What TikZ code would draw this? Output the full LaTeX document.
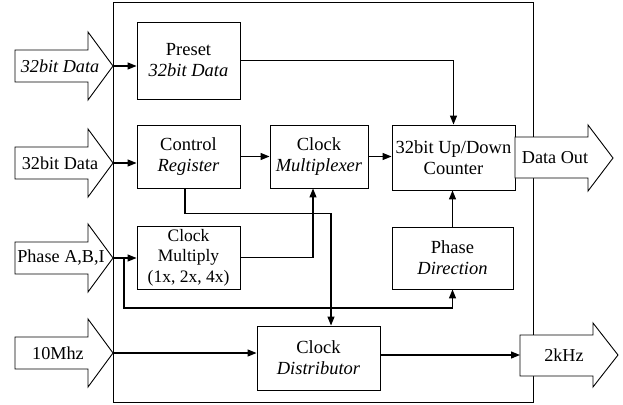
\documentclass[tikz,border=0pt]{standalone}
\usepackage{fontspec}
\setmainfont{Liberation Serif}
\usetikzlibrary{arrows.meta}
\begin{document}
\begin{tikzpicture}[x=1pt,y=-1pt,
  blk/.style={draw, line width=0.9pt, fill=white, align=center, inner sep=0pt,
    font=\fontsize{18.5}{21}\selectfont},
  conn/.style={line width=1.2pt, -{Triangle[length=9pt,width=7pt]}},
  io/.style={draw, line width=0.9pt, fill=white, line join=miter},
  lbl/.style={font=\fontsize{18.2}{21}\selectfont, inner sep=0pt}
]
\useasboundingbox (0,0) rectangle (623,404);
% outer frame
\draw[line width=1pt] (113,3) rectangle (533,402);

% input arrows
\draw[io] (15,50) -- (88,50) -- (88,32) -- (113,66) -- (88,100) -- (88,82) -- (15,82) -- cycle;
\coordinate (in1) at (113,66);
\node[lbl] (t1) at (60,66) {\textit{32bit Data}};

\draw[io] (15,147) -- (88,147) -- (88,129) -- (113,163) -- (88,197) -- (88,179) -- (15,179) -- cycle;
\coordinate (in2) at (113,163);
\node[lbl] (t2) at (60,163) {32bit Data};

\draw[io] (15,242) -- (88,242) -- (88,224) -- (113,258) -- (88,292) -- (88,274) -- (15,274) -- cycle;
\coordinate (in3) at (113,258);
\node[lbl] (t3) at (61,258) {Phase A,B,I};

\draw[io] (15,337) -- (88,337) -- (88,319) -- (113,353) -- (88,387) -- (88,369) -- (15,369) -- cycle;
\coordinate (in4) at (113,353);
\node[lbl] (t4) at (58,353) {10Mhz};

% blocks
\node[blk, minimum width=103pt, minimum height=77pt] (preset) at (188.5,60.5) {Preset\\\textit{32bit Data}};
\node[blk, minimum width=103pt, minimum height=63pt] (control) at (188.5,156.5) {Control\\\textit{Register}};
\node[blk, minimum width=98pt, minimum height=63pt] (mux) at (319,156.5) {Clock\\\textit{Multiplexer}};
\node[blk, minimum width=123pt, minimum height=65pt] (counter) at (453.5,157.5) {32bit Up/Down\\Counter};
\node[blk, minimum width=103pt, minimum height=63pt, font=\fontsize{17.5}{20.5}\selectfont] (clkmul) at (188.5,257.5) {Clock\\Multiply\\(1x, 2x, 4x)};
\node[blk, minimum width=121pt, minimum height=62pt] (phasedir) at (452.5,258) {Phase\\\textit{Direction}};
\node[blk, minimum width=123pt, minimum height=64pt] (clkdist) at (318.5,358) {Clock\\\textit{Distributor}};

% output arrows
\draw[io] (515,137) -- (588,137) -- (588,125) -- (613,158) -- (588,191) -- (588,178) -- (515,178) -- cycle;
\node[lbl] (t5) at (555,158) {Data Out};
\draw[io] (520,335) -- (593,335) -- (593,323) -- (618,355) -- (593,387) -- (593,376) -- (520,376) -- cycle;
\coordinate (out2) at (520,355);
\node[lbl] (t6) at (564,355) {2kHz};

% connectors
\draw[conn] (in1) -- (in1 -| preset.west);
\draw[conn] (preset.east) -| (counter.north);
\draw[conn] (in2) -- (in2 -| control.west);
\draw[conn] (control.east) -- (mux.west);
\draw[conn] (mux.east) -- (mux.east -| counter.west);
\draw[conn] ([xshift=-3.5pt]control.south) -- ++(0,25) -| ([xshift=12.5pt]clkdist.north);
\draw[conn] (clkmul.east) -| ([xshift=-6pt]mux.south);
\draw[conn] (in3) -- (in3 -| clkmul.west);
\coordinate (br) at (124,258);
\coordinate (brlow) at (124,308);
\draw[conn] (br) -- (brlow) -| (phasedir.south);
\draw[conn] (phasedir.north) -- (phasedir.north |- counter.south);
\draw[conn] (in4) -- (in4 -| clkdist.west);
\draw[conn] (out2 -| clkdist.east) -- (out2);
\end{tikzpicture}
\end{document}
